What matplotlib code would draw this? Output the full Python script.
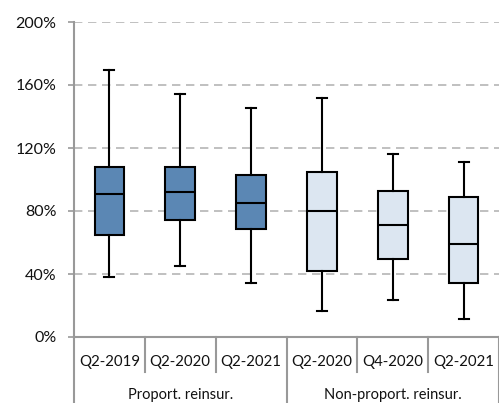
import matplotlib
matplotlib.use("Agg")
import matplotlib.pyplot as plt
from matplotlib.transforms import blended_transform_factory

plt.rcParams['font.family'] = ['Lato', 'DejaVu Sans']

categories = ["Q2-2019", "Q2-2020", "Q2-2021", "Q2-2020", "Q4-2020", "Q2-2021"]
groups = ["Proport. reinsur.", "Non-proport. reinsur."]
group_sizes = [3, 3]
whisker_low = [37.8, 45.0, 34.3, 16.8, 23.8, 11.7]
q1 = [64.7, 74.0, 68.5, 41.8, 49.6, 34.0]
median = [90.7, 91.8, 84.8, 79.7, 71.0, 59.0]
q3 = [108.1, 108.1, 102.8, 104.9, 92.8, 88.6]
whisker_high = [169.4, 154.3, 145.2, 152.0, 116.0, 110.9]
colors = ["#5b87b4", "#5b87b4", "#5b87b4", "#dce6f1", "#dce6f1", "#dce6f1"]
yticks = [0, 40, 80, 120, 160, 200]

fig = plt.figure(figsize=(4.99, 4.03), dpi=100)
ax = fig.add_axes([74/499, (403-337)/403, 1 - 74/499, (337-22)/403])

stats = []
for i in range(len(categories)):
    stats.append(dict(med=median[i], q1=q1[i], q3=q3[i],
                      whislo=whisker_low[i], whishi=whisker_high[i], fliers=[]))

bp = ax.bxp(stats, positions=range(len(categories)), widths=0.42,
            patch_artist=True, showfliers=False, capwidths=0.14,
            boxprops=dict(linewidth=1.5, edgecolor='black'),
            medianprops=dict(color='black', linewidth=1.5),
            whiskerprops=dict(color='black', linewidth=1.5),
            capprops=dict(color='black', linewidth=1.5))
for patch, c in zip(bp['boxes'], colors):
    patch.set_facecolor(c)
for artist in bp['boxes'] + bp['medians'] + bp['whiskers'] + bp['caps']:
    artist.set_zorder(3)

ax.set_xlim(-0.5, len(categories) - 0.5)
ax.set_ylim(0, 200)
ax.set_yticks(yticks)
ax.set_yticklabels([f"{v}%" for v in yticks], fontsize=11.5, color='#111111')
ax.yaxis.grid(True, color='#c0c0c0', linestyle=(0, (4.3, 2.9)), linewidth=1.4, zorder=0)
ax.set_axisbelow(True)
ax.tick_params(axis='y', length=4.5, width=1.2, color='#999999', pad=8)
ax.set_xticks([])
for s in ['top', 'right']:
    ax.spines[s].set_visible(False)
ax.spines['left'].set_color('#999999')
ax.spines['left'].set_linewidth(1.5)
ax.spines['bottom'].set_color('#999999')
ax.spines['bottom'].set_linewidth(1.5)
ax.spines['left'].set_bounds(0, 200)

trans = blended_transform_factory(ax.transData, ax.transAxes)
h = ax.get_position().height * 403
def ay(px):
    return -px / h

# category labels and separators
for i, c in enumerate(categories):
    ax.text(i, ay(25), c, transform=trans, ha='center', va='center',
            fontsize=10.8, color='#111111', clip_on=False)
group_edges = [-0.5]
for s in group_sizes:
    group_edges.append(group_edges[-1] + s)
for k in range(len(categories) + 1):
    x = k - 0.5
    bottom = ay(70) if x in group_edges else ay(35)
    ax.plot([x, x], [0, bottom], transform=trans, color='#999999',
            linewidth=1.5, clip_on=False)
for g, name in enumerate(groups):
    mid = (group_edges[g] + group_edges[g + 1]) / 2
    ax.text(mid, ay(65), name, transform=trans, ha='center', va='bottom',
            fontsize=10.5, color='#111111', clip_on=False)

fig.savefig("out.png", dpi=100)
